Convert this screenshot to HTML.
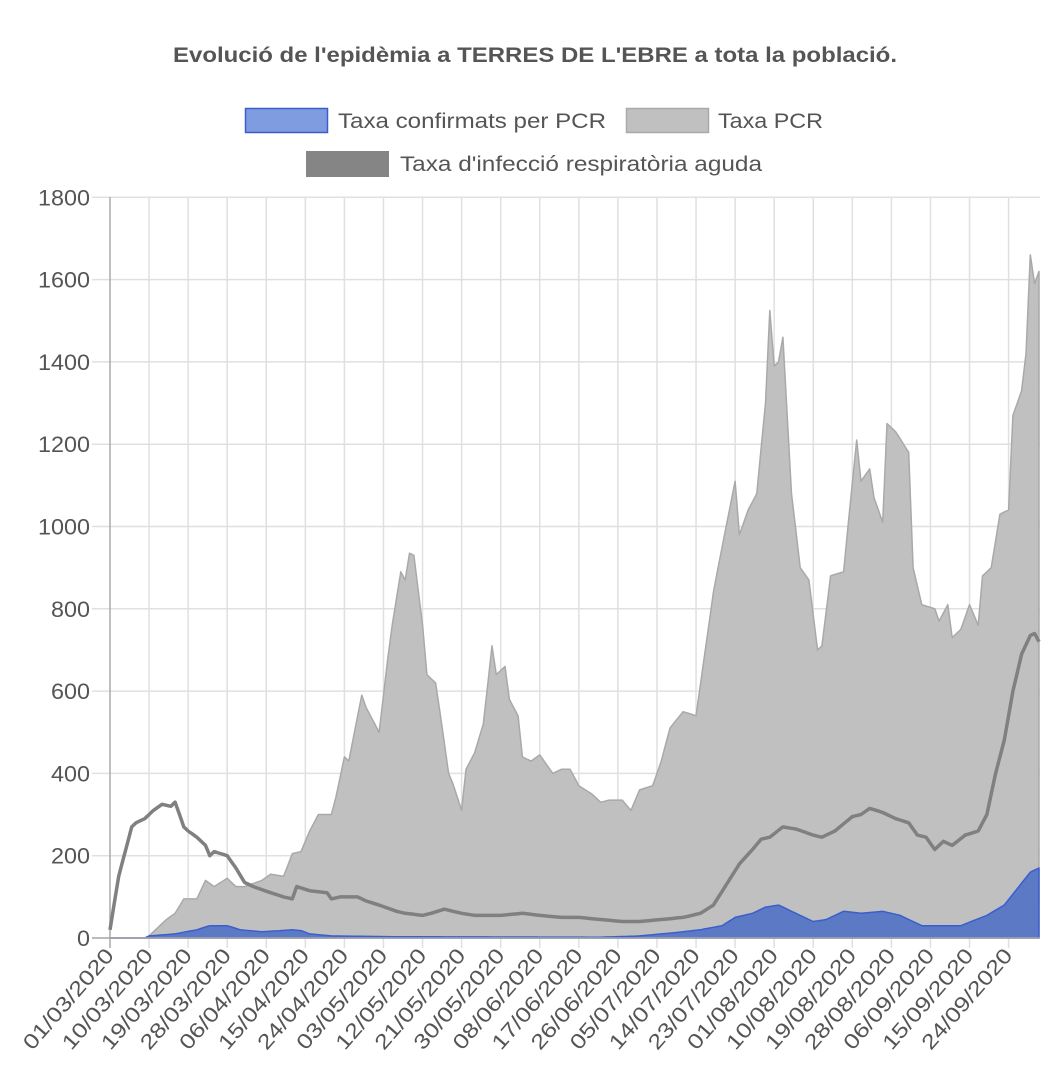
<!DOCTYPE html>
<html><head><meta charset="utf-8"><style>body{margin:0;background:#fff}svg{display:block}text{font-family:"Liberation Sans",sans-serif;fill:#555}</style></head>
<body>
<svg id="s" width="1062" height="1070" xmlns="http://www.w3.org/2000/svg">
<text x="535" y="62" text-anchor="middle" font-size="21" font-weight="bold" textLength="724" lengthAdjust="spacingAndGlyphs">Evolució de l'epidèmia a TERRES DE L'EBRE a tota la població.</text>
<rect x="245.5" y="108.5" width="82" height="24" fill="#7f9ce0" stroke="#3a5fcd" stroke-width="1.5"/>
<text x="338" y="128" font-size="21" textLength="268" lengthAdjust="spacingAndGlyphs">Taxa confirmats per PCR</text>
<rect x="626.5" y="108.5" width="82" height="24" fill="#c0c0c0" stroke="#aaa" stroke-width="1.5"/>
<text x="718" y="128" font-size="21" textLength="105" lengthAdjust="spacingAndGlyphs">Taxa PCR</text>
<rect x="306" y="151" width="83" height="26" fill="#858585"/>
<text x="400" y="171" font-size="21" textLength="362" lengthAdjust="spacingAndGlyphs">Taxa d'infecció respiratòria aguda</text>
<g id="grid"></g>
<g id="data"></g>
<g id="labels"></g>
</svg>
<script>
var NS="http://www.w3.org/2000/svg";
function el(p,t,a,txt){var e=document.createElementNS(NS,t);for(var k in a)e.setAttribute(k,a[k]);if(txt)e.textContent=txt;document.getElementById(p).appendChild(e);return e;}
var x0=110,dx=4.341,y0=938,ys=0.4115;
function X(d){return x0+d*dx}function Y(v){return y0-v*ys}
for(var i=0;i<=9;i++){var y=Y(i*200);el("grid","line",{x1:92,x2:1040,y1:y,y2:y,stroke:"#e0e0e0","stroke-width":1.5});
var s=String(i*200);el("labels","text",{x:90,y:y+8,"text-anchor":"end","font-size":"22",textLength:(s.length*13).toString(),lengthAdjust:"spacingAndGlyphs"},s);}
var dates=["01/03/2020","10/03/2020","19/03/2020","28/03/2020","06/04/2020","15/04/2020","24/04/2020","03/05/2020","12/05/2020","21/05/2020","30/05/2020","08/06/2020","17/06/2020","26/06/2020","05/07/2020","14/07/2020","23/07/2020","01/08/2020","10/08/2020","19/08/2020","28/08/2020","06/09/2020","15/09/2020","24/09/2020"];
for(var k=0;k<dates.length;k++){var x=X(k*9);el("grid","line",{x1:x,x2:x,y1:197,y2:948,stroke:k==0?"#aaa":"#e0e0e0","stroke-width":1.5});
el("labels","text",{x:x+5,y:956,"text-anchor":"end","font-size":"21",textLength:"126",lengthAdjust:"spacingAndGlyphs",transform:"rotate(-49 "+(x+5)+" 956)"},dates[k]);}
function interp(pts){var out=[];for(var d=0;d<=214;d++){for(var j=0;j<pts.length-1;j++){if(d>=pts[j][0]&&d<=pts[j+1][0]){var a=pts[j],b=pts[j+1];var t=b[0]==a[0]?0:(d-a[0])/(b[0]-a[0]);out.push(a[1]+(b[1]-a[1])*t);break;}}}return out;}
function area(v){var s="M"+X(0)+","+Y(0);for(var d=0;d<v.length;d++)s+="L"+X(d).toFixed(1)+","+Y(v[d]).toFixed(1);s+="L"+X(v.length-1)+","+Y(0)+"Z";return s;}
function line(v){var s="";for(var d=0;d<v.length;d++)s+=(d?"L":"M")+X(d).toFixed(1)+","+Y(v[d]).toFixed(1);return s;}
var pcr=[[0,0],[8,0],[9,5],[13,45],[15,60],[17,95],[20,95],[22,140],[24,125],[27,145],[29,125],[31,125],[35,140],[37,155],[40,150],[42,205],[44,210],[46,260],[48,300],[51,300],[52,340],[54,440],[55,430],[58,590],[59,560],[61,520],[62,500],[64,680],[65,760],[67,890],[68,870],[69,935],[70,930],[72,760],[73,640],[75,620],[76,550],[78,400],[79,375],[81,310],[82,410],[84,450],[86,520],[88,710],[89,640],[91,660],[92,580],[94,540],[95,440],[97,430],[99,445],[102,400],[104,410],[106,410],[108,370],[111,350],[113,330],[115,335],[118,335],[120,310],[122,360],[125,370],[127,430],[129,510],[132,550],[135,540],[139,840],[141,950],[144,1110],[145,980],[147,1040],[149,1080],[151,1300],[152,1525],[153,1390],[154,1400],[155,1460],[157,1080],[159,900],[161,870],[163,700],[164,710],[166,880],[169,890],[170,1000],[172,1210],[173,1110],[175,1140],[176,1070],[178,1010],[179,1250],[181,1230],[184,1180],[185,900],[187,810],[190,800],[191,770],[193,810],[194,730],[196,750],[198,810],[200,760],[201,880],[203,900],[205,1030],[207,1040],[208,1270],[210,1330],[211,1420],[212,1660],[213,1590],[214,1620]];
var ira=[[0,20],[2,150],[5,270],[6,280],[8,290],[10,310],[12,325],[14,320],[15,330],[17,270],[18,260],[20,245],[22,225],[23,200],[24,210],[27,200],[29,170],[31,135],[33,125],[37,110],[40,100],[42,95],[43,125],[46,115],[50,110],[51,95],[53,100],[57,100],[59,90],[62,80],[66,65],[68,60],[72,55],[74,60],[77,70],[81,60],[84,55],[90,55],[95,60],[99,55],[104,50],[108,50],[113,45],[118,40],[122,40],[127,45],[132,50],[136,60],[139,80],[142,130],[145,180],[148,215],[150,240],[152,245],[155,270],[158,265],[162,250],[164,245],[167,260],[171,295],[173,300],[175,315],[178,305],[181,290],[184,280],[186,250],[188,245],[190,215],[192,235],[194,225],[197,250],[200,260],[202,300],[204,400],[206,480],[208,600],[210,690],[212,735],[213,740],[214,720]];
var conf=[[0,0],[8,0],[9,5],[15,10],[20,20],[23,30],[27,30],[30,20],[35,15],[42,20],[44,18],[46,10],[51,5],[67,3],[113,2],[122,5],[132,15],[136,20],[141,30],[144,50],[148,60],[151,75],[154,80],[158,60],[162,40],[165,45],[169,65],[173,60],[178,65],[182,55],[187,30],[190,30],[196,30],[202,55],[206,80],[209,120],[212,160],[214,170]];
el("data","path",{d:area(interp(pcr)),fill:"#c0c0c0",stroke:"#a9a9a9","stroke-width":1.5,"stroke-linejoin":"round"});
el("data","path",{d:area(interp(conf)),fill:"#5b79c4",stroke:"#3a5fcd","stroke-width":1.5,"stroke-linejoin":"round"});
el("data","path",{d:line(interp(ira)),fill:"none",stroke:"#808080","stroke-width":3.5,"stroke-linejoin":"round"});
el("data","line",{x1:92,x2:1040,y1:y0,y2:y0,stroke:"#aaa","stroke-width":1.5});
</script>
</body></html>
